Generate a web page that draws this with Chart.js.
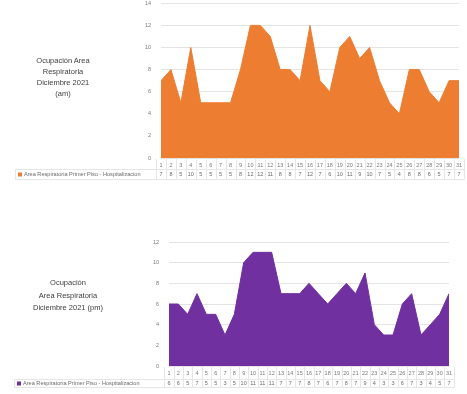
<!DOCTYPE html>
<html>
<head>
<meta charset="utf-8">
<script src="https://cdn.jsdelivr.net/npm/chart.js@4.4.1/dist/chart.umd.min.js"></script>
<style>
  html, body { margin: 0; padding: 0; background: #fff; width: 467px; height: 394px; overflow: hidden; }
  .wrap { position: absolute; left: 0; width: 467px; }
  .title { position: absolute; font-family: "Liberation Sans", Arial, sans-serif; font-size: 7.5px; color: #404040; text-align: center; line-height: 11px; }
</style>
</head>
<body>
<div class="wrap" style="top:-10px;height:194px;"><canvas id="c1"></canvas></div>
<div class="wrap" style="top:200px;height:192px;"><canvas id="c2"></canvas></div>
<div class="title" style="left:13px;top:55px;width:100px;">Ocupación Area<br>Respiratoria<br>Diciembre 2021<br>(am)</div>
<div class="title" style="left:18px;top:277px;width:100px;line-height:12.5px;">Ocupación<br>Area Respiratoria<br>Diciembre 2021 (pm)</div>
<script>
const days = ["1","2","3","4","5","6","7","8","9","10","11","12","13","14","15","16","17","18","19","20","21","22","23","24","25","26","27","28","29","30","31"];
const seriesName = "Area Respiratoria Primer Piso - Hospitalizacion";
const amValues = [7,8,5,10,5,5,5,5,8,12,12,11,8,8,7,12,7,6,10,11,9,10,7,5,4,8,8,6,5,7,7];
const pmValues = [6,6,5,7,5,5,3,5,10,11,11,11,7,7,7,8,7,6,7,8,7,9,4,3,3,6,7,3,4,5,7];
const amTicks = [0,2,4,6,8,10,12,14];
const pmTicks = [0,2,4,6,8,10,12];

const FONT = "Liberation Sans, Arial, sans-serif";

const tablePlugin = {
  id: 'dataTable',
  afterDraw(chart, args, opts) {
    const ctx = chart.ctx;
    const xs = chart.scales.x;
    const area = chart.chartArea;
    const vals = chart.data.datasets[0].data;
    const n = vals.length;
    const step = xs.getPixelForValue(1) - xs.getPixelForValue(0);
    const top = area.bottom + 1;
    const mid = area.bottom + opts.midOffset;
    const bottom = area.bottom + opts.bottomOffset;
    ctx.save();
    ctx.strokeStyle = '#e6e6e6';
    ctx.lineWidth = 1;
    for (let i = 0; i <= n; i++) {
      const px = Math.round(xs.getPixelForValue(0) + (i - 0.5) * step) + 0.5;
      ctx.beginPath(); ctx.moveTo(px, top); ctx.lineTo(px, bottom); ctx.stroke();
    }
    const leftEdge = opts.legendX - 3;
    const rightEdge = Math.round(xs.getPixelForValue(n - 1) + step / 2) + 0.5;
    ctx.beginPath(); ctx.moveTo(leftEdge, mid + 0.5); ctx.lineTo(rightEdge, mid + 0.5); ctx.stroke();
    ctx.beginPath(); ctx.moveTo(leftEdge, bottom + 0.5); ctx.lineTo(rightEdge, bottom + 0.5); ctx.stroke();
    ctx.beginPath(); ctx.moveTo(leftEdge + 0.5, mid); ctx.lineTo(leftEdge + 0.5, bottom); ctx.stroke();
    ctx.fillStyle = '#6a6a6a';
    ctx.font = '5.5px ' + FONT;
    ctx.textAlign = 'center';
    ctx.textBaseline = 'middle';
    const rowY = (mid + bottom) / 2 + 0.5;
    for (let i = 0; i < n; i++) {
      ctx.fillText(String(vals[i]), xs.getPixelForValue(i), rowY);
    }
    ctx.fillStyle = chart.data.datasets[0].backgroundColor;
    ctx.fillRect(opts.legendX, rowY - 2, 4, 4);
    ctx.fillStyle = '#6a6a6a';
    ctx.textAlign = 'left';
    ctx.font = '5.6px ' + FONT;
    const clipR = xs.getPixelForValue(0) - step / 2 - 1;
    ctx.beginPath(); ctx.rect(opts.legendX, mid, clipR - opts.legendX, bottom - mid); ctx.clip();
    ctx.fillText(chart.data.datasets[0].label, opts.legendX + 6, rowY);
    ctx.restore();
  }
};

function makeChart(id, values, color, maxY, tickList, padTop, padRight, leftW, xAxisH, legendX, midOffset, bottomOffset) {
  return new Chart(document.getElementById(id), {
    type: 'line',
    data: {
      labels: days,
      datasets: [{
        label: seriesName,
        data: values,
        backgroundColor: color,
        borderColor: color,
        borderWidth: 1,
        fill: 'origin',
        tension: 0,
        pointRadius: 0
      }]
    },
    options: {
      responsive: true,
      maintainAspectRatio: false,
      animation: false,
      layout: { padding: { top: padTop, right: padRight, left: 0, bottom: 0 } },
      plugins: {
        legend: { display: false },
        tooltip: { enabled: false },
        dataTable: { legendX: legendX, midOffset: midOffset, bottomOffset: bottomOffset }
      },
      scales: {
        x: {
          offset: false,
          grid: { display: false, drawTicks: false },
          border: { display: false },
          ticks: { color: '#7a7a7a', font: { size: 5.5, family: FONT }, padding: 4, autoSkip: false, maxRotation: 0 },
          afterFit(s) { s.height = xAxisH; }
        },
        y: {
          min: 0, max: maxY,
          afterBuildTicks(s) { s.ticks = tickList.map(v => ({ value: v })); },
          grid: { color: '#e4e4e4', drawTicks: false },
          border: { display: false },
          ticks: { color: '#7a7a7a', font: { size: 5.5, family: FONT }, padding: 10 },
          afterFit(s) { s.width = leftW; }
        }
      }
    },
    plugins: [tablePlugin]
  });
}

makeChart('c1', amValues, '#ED7D31', 14, amTicks, 3, 8, 161, 26, 18, 11, 21);
makeChart('c2', pmValues, '#7030A0', 12, pmTicks, 42, 18, 169, 26, 17, 13, 21);
</script>
</body>
</html>
